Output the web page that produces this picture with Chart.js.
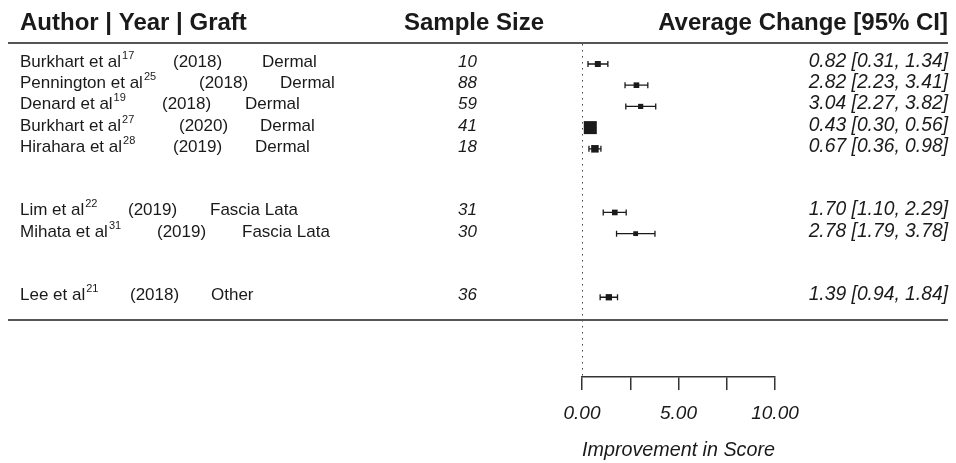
<!DOCTYPE html>
<html>
<head>
<meta charset="utf-8">
<script src="https://cdn.jsdelivr.net/npm/chart.js@4.4.1/dist/chart.umd.min.js"></script>
<style>
  html, body { margin: 0; padding: 0; background: #fff; }
  #wrap { width: 956px; height: 463px; position: relative; }
</style>
</head>
<body>
<div id="wrap"><canvas id="forest"></canvas></div>
<script>
// Forest plot: improvement in score by graft type
const authors = ['Burkhart et al', 'Pennington et al', 'Denard et al', 'Burkhart et al', 'Hirahara et al', 'Lim et al', 'Mihata et al', 'Lee et al'];
const refs = ['17', '25', '19', '27', '28', '22', '31', '21'];
const years = ['2018', '2018', '2018', '2020', '2019', '2019', '2019', '2018'];
const grafts = ['Dermal', 'Dermal', 'Dermal', 'Dermal', 'Dermal', 'Fascia Lata', 'Fascia Lata', 'Other'];
const sampleSizes = [10, 88, 59, 41, 18, 31, 30, 36];
const estimates = [0.82, 2.82, 3.04, 0.43, 0.67, 1.70, 2.78, 1.39];
const ciLower = [0.31, 2.23, 2.27, 0.30, 0.36, 1.10, 1.79, 0.94];
const ciUpper = [1.34, 3.41, 3.82, 0.56, 0.98, 2.29, 3.78, 1.84];
const xTicks = [0, 2.5, 5, 7.5, 10];
const xLabelled = [0, 5, 10];

const FONT = "'Liberation Sans', Arial, Helvetica, sans-serif";
const INK = '#1a1a1a';

// row slot per study: two empty rows between graft groups
const rowIndex = [];
let group = 0;
grafts.forEach((g, i) => {
  if (i > 0 && g !== grafts[i - 1]) group++;
  rowIndex.push(i + group * 2);
});

// square size from inverse standard error (from the CI width)
const invSE = ciLower.map((lo, i) => 3.92 / (ciUpper[i] - lo));
const wMin = Math.min(...invSE), wMax = Math.max(...invSE);
const pointSizes = invSE.map(w => 3.4 + (w - wMin) / (wMax - wMin) * 5.8);

// x offsets for the year / graft parts of the label (composed by hand in the original)
const yearX = [173, 199, 162, 179, 173, 128, 157, 130];
const graftX = [262, 280, 245, 260, 255, 210, 242, 211];

const Y_MIN = -0.943, Y_MAX = 14.76;

const errorBars = {
  id: 'errorBars',
  beforeDatasetsDraw(chart) {
    const { ctx, scales: { x, y } } = chart;
    ctx.save();
    ctx.strokeStyle = INK;
    ctx.lineWidth = 1.3;
    estimates.forEach((est, i) => {
      const py = y.getPixelForValue(rowIndex[i]);
      const x1 = x.getPixelForValue(ciLower[i]);
      const x2 = x.getPixelForValue(ciUpper[i]);
      ctx.beginPath();
      ctx.moveTo(x1, py); ctx.lineTo(x2, py);
      ctx.moveTo(x1, py - 3); ctx.lineTo(x1, py + 3);
      ctx.moveTo(x2, py - 3); ctx.lineTo(x2, py + 3);
      ctx.stroke();
    });
    ctx.restore();
  }
};

const tableText = {
  id: 'tableText',
  afterDraw(chart) {
    const { ctx, scales: { y } } = chart;
    ctx.save();
    ctx.fillStyle = INK;

    // headers
    ctx.font = `bold 24px ${FONT}`;
    ctx.textBaseline = 'alphabetic';
    ctx.textAlign = 'left';
    ctx.fillText('Author | Year | Graft', 20, 30);
    ctx.textAlign = 'center';
    ctx.fillText('Sample Size', 474, 30);
    ctx.textAlign = 'right';
    ctx.fillText('Average Change [95% CI]', 948, 30);

    // rules
    ctx.strokeStyle = '#555';
    ctx.lineWidth = 2;
    [y.getPixelForValue(-1.0), y.getPixelForValue(12.08)].forEach(py => {
      ctx.beginPath();
      ctx.moveTo(8, Math.round(py));
      ctx.lineTo(948, Math.round(py));
      ctx.stroke();
    });

    // rows
    authors.forEach((name, i) => {
      const base = y.getPixelForValue(rowIndex[i]) + 3;
      ctx.textAlign = 'left';
      ctx.font = `17px ${FONT}`;
      ctx.fillText(name, 20, base);
      const w = ctx.measureText(name).width;
      ctx.font = `11px ${FONT}`;
      ctx.fillText(refs[i], 20 + w + 1, base - 8);
      ctx.font = `17px ${FONT}`;
      ctx.fillText('(' + years[i] + ')', yearX[i], base);
      ctx.fillText(grafts[i], graftX[i], base);

      ctx.font = `italic 17px ${FONT}`;
      ctx.textAlign = 'right';
      ctx.fillText(String(sampleSizes[i]), 477, base);

      ctx.font = `italic 19.3px ${FONT}`;
      const txt = `${estimates[i].toFixed(2)} [${ciLower[i].toFixed(2)}, ${ciUpper[i].toFixed(2)}]`;
      ctx.fillText(txt, 948, base);
    });
    ctx.restore();
  }
};

new Chart(document.getElementById('forest'), {
  type: 'scatter',
  data: {
    datasets: [
      {
        type: 'line',
        data: [{ x: 0, y: Y_MIN }, { x: 0, y: Y_MAX }],
        borderColor: '#333',
        borderWidth: 1.8,
        borderDash: [1.6, 4.4],
        pointRadius: 0,
        fill: false
      },
      {
        data: estimates.map((e, i) => ({ x: e, y: rowIndex[i] })),
        pointStyle: 'rect',
        pointRadius: pointSizes,
        backgroundColor: INK,
        borderColor: INK,
        borderWidth: 0
      }
    ]
  },
  options: {
    responsive: true,
    maintainAspectRatio: false,
    animation: false,
    layout: { padding: { left: 582, right: 181, top: 44, bottom: 0 } },
    plugins: {
      legend: { display: false },
      tooltip: { enabled: false }
    },
    scales: {
      x: {
        type: 'linear',
        min: 0,
        max: 10,
        afterBuildTicks(scale) {
          scale.ticks = xTicks.map(v => ({ value: v }));
        },
        afterFit(scale) {
          scale.height = 86;
        },
        ticks: {
          autoSkip: false,
          maxRotation: 0,
          padding: 12,
          color: INK,
          font: { family: FONT, size: 19, style: 'italic' },
          callback: v => xLabelled.includes(v) ? v.toFixed(2) : ''
        },
        grid: { drawOnChartArea: false, drawTicks: true, tickLength: 13, color: '#333', lineWidth: 1.5 },
        border: { display: true, color: '#333', width: 1.5 },
        title: {
          display: true,
          text: 'Improvement in Score',
          color: INK,
          font: { family: FONT, size: 20, style: 'italic' },
          padding: { top: 1, bottom: 1 }
        }
      },
      y: {
        type: 'linear',
        display: false,
        reverse: true,
        min: Y_MIN,
        max: Y_MAX
      }
    }
  },
  plugins: [errorBars, tableText]
});
</script>
</body>
</html>
